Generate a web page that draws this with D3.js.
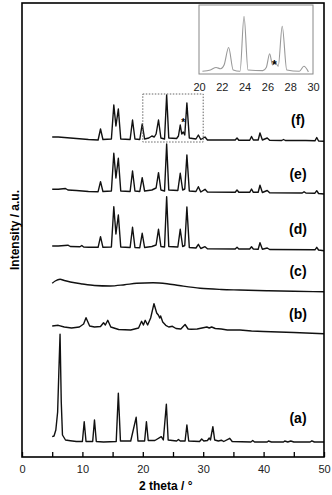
<!DOCTYPE html>
<html>
<head>
<meta charset="utf-8">
<script src="https://cdn.jsdelivr.net/npm/d3@7"></script>
<style>
    body { margin: 0; background: #fff; }
    svg { display: block; font-family: "Liberation Sans", Arial, sans-serif; }
</style>
</head>
<body>
<svg class="d3" width="332" height="495"></svg>
<script>
// XRD patterns, [2 theta, intensity above the pattern's own baseline]
const patternA = [[5, 5.3], [5.3, 6], [5.6, 12], [5.9, 30], [6.1, 70], [6.3, 107.7], [6.5, 40], [6.7, 7], [7.2, 2], [8, 1.3], [9, 0.5],
    [10, 0.5], [10.3, 20.3], [10.6, 0.5], [11.7, 0.5], [12, 22], [12.3, 0.5], [13.5, 0], [15.6, 0.5], [15.95, 48.7], [16.3, 1],
    [18, 1], [18.9, 24.7], [19.2, 1], [20.3, 1], [20.6, 20.3], [20.9, 1.5], [22, 1.5], [23.06, 5.3], [23.4, 2], [23.9, 37.7],
    [24.2, 2], [25.6, 1], [25.9, 2.5], [26.2, 1], [27, 1], [27.3, 17], [27.6, 1], [29.4, 0.5], [29.75, 3], [30.1, 1],
    [30.7, 1.5], [31, 4], [31.2, 2], [31.6, 15.3], [31.9, 2], [32.5, 1], [33, 1.8], [33.4, 0.5], [34.4, 3.7], [34.8, 0.5],
    [37.9, 0], [38.2, 1.5], [38.5, 0], [40.6, 0], [40.8, 1], [41.3, 0], [43.3, 0], [43.5, 1], [44, 0], [44.5, 1],
    [45, 0], [47.7, 0], [48, 1.2], [48.4, 0], [50, 0]]
const patternB = [[5, 4], [6, 4.7], [7, 3], [8.2, 2], [9.5, 3], [10.2, 6], [10.6, 12.3], [11.2, 4], [12, 3], [13, 3.5],
    [13.5, 7.3], [13.8, 5], [14.2, 9.7], [14.7, 3], [16, 0.5], [18, 0], [19.3, 2], [19.8, 8.7], [20.1, 5], [20.4, 9.7],
    [20.8, 5], [21.3, 12], [21.85, 26.3], [22.3, 17], [22.6, 14.7], [22.8, 12], [22.95, 14], [23.3, 8], [23.8, 4.7],
    [24.3, 3], [24.9, 3.7], [25.5, 1.5], [26.3, 1], [27, 5.5], [27.5, 1], [28, 0.7], [29, 1], [30.6, 3], [31, 2],
    [31.4, 3], [32, 1.5], [33, 1], [34, 0], [36.1, 0], [38, -1], [40, -1.5], [45, -2.5], [50, -3.7]]
const patternC = [[5, 8.7], [5.5, 11], [6.3, 12.7], [7, 11.5], [8, 10], [10, 8], [12, 6.5], [14.6, 6], [17, 7.3], [19, 8.7],
    [21.7, 9.3], [24, 8.3], [26, 6.5], [29.5, 3.7], [33, 2.5], [36, 2], [40.5, 1.3], [45, 0.7], [50, 0.3]]
const patternD = [[5, 2], [6, 2], [7.6, 2.8], [8, 1.5], [9.6, 1.2], [9.9, 2.5], [10.2, 1], [11, 0.8], [12.6, 0.7], [13, 11.3],
    [13.4, 0.7], [14.8, 1], [15.2, 41.3], [15.55, 14], [15.95, 33], [16.35, 1], [17.9, 0.5], [18.3, 20.7], [18.7, 0.5],
    [19.5, 0.3], [19.9, 14.7], [20.3, 0.5], [21.5, 1.5], [22.2, 3], [22.6, 18.7], [23, 1.5], [23.6, 1], [23.95, 51.3],
    [24.3, 1.5], [25.8, 1], [26.2, 18.7], [26.6, 1.5], [26.95, 2.5], [27.3, 41], [27.7, 0.5], [28.8, 0], [29.2, 3.7],
    [29.6, -0.5], [30.3, 1.3], [30.7, -0.8], [35.3, -1], [35.6, 0.7], [35.9, -1], [37.7, -1], [38, 1.3], [38.3, -1],
    [39.1, -1.2], [39.4, 5.3], [39.8, -1.2], [40.6, 0], [41, -1.5], [48.5, -1.8], [48.8, 0.7], [49.1, -2], [50, -2.7]]
const patternE = [[5, 2.7], [6, 2.7], [7.2, 3.5], [7.6, 2], [9, 1.5], [10, 1], [11, 0.5], [12.6, 0.3], [13, 10.3], [13.4, 0.5],
    [14.8, 1], [15.2, 38.7], [15.55, 14], [15.95, 33.7], [16.35, 1], [17.9, 0.5], [18.3, 21], [18.7, 1], [19.5, 0.5],
    [19.9, 14.3], [20.3, 1], [21.5, 2], [22.2, 4], [22.6, 19.3], [23, 2], [23.6, 1], [23.95, 48], [24.3, 2], [25.8, 1.5],
    [26.2, 18.7], [26.6, 2], [26.95, 3], [27.3, 37], [27.7, 1], [28.8, 0.5], [29.2, 5.3], [29.6, 0], [30.3, 2.7], [30.7, 0],
    [35.3, -0.3], [35.6, 2], [35.9, -0.3], [37.7, -0.3], [38, 3], [38.3, -0.3], [39.1, -0.3], [39.4, 6.7], [39.8, -0.5],
    [40.6, 1.5], [41, -0.8], [46.4, -1], [46.7, 0.3], [47, -1], [48.5, -1.2], [48.8, 1.3], [49.1, -1.5], [50, -2]]
const patternF = [[5, 3], [6, 3], [7, 2.5], [8, 2], [9, 1.5], [10, 1], [11, 0.5], [12.6, 0], [13, 11], [13.4, 0.5], [14.8, 1],
    [15.2, 35], [15.55, 14], [15.95, 31], [16.35, 1], [17.9, 0.5], [18.3, 20], [18.7, 1], [19.5, 0.5], [19.9, 16], [20.3, 1],
    [21, 2], [21.5, 4], [21.9, 3], [22.2, 6], [22.6, 20], [23, 2], [23.6, 1], [23.95, 45], [24.3, 2], [25.6, 1.5], [25.9, 4],
    [26.2, 15], [26.45, 6], [26.7, 8], [26.95, 5], [27.3, 37], [27.7, 2], [28.8, 1], [29.2, 5], [29.6, 0.5], [30.3, 3],
    [30.7, 0], [33, 0], [35.3, 0], [35.6, 2], [35.9, -0.3], [37.7, -0.3], [38, 3.5], [38.3, 0], [39.1, 0], [39.4, 7],
    [39.8, 0], [40.6, 2], [41, -0.3], [43, -0.5], [43.3, 0.5], [43.6, -0.5], [47, -0.5], [48.5, -0.8], [48.8, 2.5],
    [49.1, -1], [50, -1.3]]

const patternNames = ["(a)", "(b)", "(c)", "(d)", "(e)", "(f)"]
const patterns = [patternA, patternB, patternC, patternD, patternE, patternF]
const offsets = [15, 127, 165, 209, 265, 317] // stacking offset of each pattern
const labelLevels = [34, 138, 181, 223, 278, 332] // where the (x) label sits

const xTicks = [0, 5, 10, 15, 20, 25, 30, 35, 40, 45, 50]
const insetTicks = [20, 22, 24, 26, 28, 30]
const insetRange = [20, 30]
const zoomBox = [315, 363] // dotted box around pattern (f)

const width = 332
const height = 495
const margin = { top: 3, right: 8, bottom: 38, left: 22 }

const svg = d3.select("svg.d3")
    .attr("viewBox", [0, 0, width, height])

const x = d3.scaleLinear()
    .domain([0, 50])
    .range([margin.left, width - margin.right])

const y = d3.scaleLinear()
    .domain([0, height - margin.top - margin.bottom])
    .range([height - margin.bottom, margin.top])

const line = d3.line()
    .x(d => x(d[0]))

// traces
svg.append("g")
    .attr("fill", "none")
    .attr("stroke", "#111")
    .attr("stroke-width", 1.4)
    .attr("stroke-linejoin", "round")
    .selectAll("path")
    .data(patterns)
    .join("path")
    .attr("d", (d, i) => line
        .y(p => y(p[1] + offsets[i]))
        .curve(i === 2 ? d3.curveMonotoneX : d3.curveLinear)(d))

svg.append("g")
    .attr("font-size", 14)
    .attr("font-weight", "bold")
    .attr("text-anchor", "middle")
    .selectAll("text")
    .data(patternNames)
    .join("text")
    .attr("x", x(45.7))
    .attr("y", (d, i) => y(labelLevels[i]))
    .text(d => d)

// dotted zoom box
svg.append("rect")
    .attr("x", x(insetRange[0]))
    .attr("y", y(zoomBox[1]))
    .attr("width", x(insetRange[1]) - x(insetRange[0]))
    .attr("height", y(zoomBox[0]) - y(zoomBox[1]))
    .attr("fill", "none")
    .attr("stroke", "#666")
    .attr("stroke-width", 1)
    .attr("stroke-dasharray", "1.5,1.5")

svg.append("text")
    .attr("x", x(26.7))
    .attr("y", y(331))
    .attr("font-size", 10)
    .attr("font-weight", "bold")
    .attr("text-anchor", "middle")
    .text("*")

// frame and x axis
svg.append("rect")
    .attr("x", x(0))
    .attr("y", margin.top)
    .attr("width", x(50) - x(0))
    .attr("height", height - margin.top - margin.bottom)
    .attr("fill", "none")
    .attr("stroke", "#000")
    .attr("stroke-width", 1.6)

svg.append("g")
    .attr("transform", `translate(0,${height - margin.bottom})`)
    .call(d3.axisBottom(x)
        .tickValues(xTicks)
        .tickSizeInner(-5)
        .tickSizeOuter(0)
        .tickPadding(8)
        .tickFormat(d => d % 10 === 0 ? d : ""))
    .call(g => g.select(".domain").remove())
    .call(g => g.selectAll(".tick line").attr("stroke-width", 1.3))
    .call(g => g.selectAll("text")
        .attr("font-size", 11)
        .attr("font-family", "Liberation Sans, Arial, sans-serif")
        .attr("fill", "#222"))

svg.append("text")
    .attr("x", x(23.8))
    .attr("y", 490)
    .attr("font-size", 12)
    .attr("font-weight", "bold")
    .attr("text-anchor", "middle")
    .text("2 theta / °")

svg.append("text")
    .attr("transform", `translate(19,${y(227)}) rotate(-90)`)
    .attr("font-size", 12)
    .attr("font-weight", "bold")
    .attr("text-anchor", "middle")
    .text("Intensity / a.u.")

// inset: pattern (f) between 20 and 30
const ix = d3.scaleLinear()
    .domain(insetRange)
    .range([199, 313])

const iy = d3.scaleLinear()
    .domain([0, 46])
    .range([72.5, 15])

const insetData = patternF.filter(d => d[0] >= insetRange[0] && d[0] <= insetRange[1])

svg.append("rect")
    .attr("x", ix(20))
    .attr("y", 5)
    .attr("width", ix(30) - ix(20))
    .attr("height", 69)
    .attr("fill", "#fff")
    .attr("stroke", "#888")
    .attr("stroke-width", 1)

svg.append("path")
    .datum(insetData)
    .attr("fill", "none")
    .attr("stroke", "#999")
    .attr("stroke-width", 1.1)
    .attr("d", d3.line()
        .x(d => ix(d[0]))
        .y(d => iy(d[1]))
        .curve(d3.curveMonotoneX))

svg.append("text")
    .attr("x", ix(26.6))
    .attr("y", 69)
    .attr("font-size", 12)
    .attr("font-weight", "bold")
    .attr("text-anchor", "middle")
    .text("*")

svg.append("g")
    .attr("transform", "translate(0,74)")
    .call(d3.axisBottom(ix)
        .tickValues(insetTicks)
        .tickSize(0)
        .tickPadding(9))
    .call(g => g.select(".domain").remove())
    .call(g => g.selectAll("text")
        .attr("font-size", 11)
        .attr("font-family", "Liberation Sans, Arial, sans-serif")
        .attr("fill", "#222"))
</script>
</body>
</html>
